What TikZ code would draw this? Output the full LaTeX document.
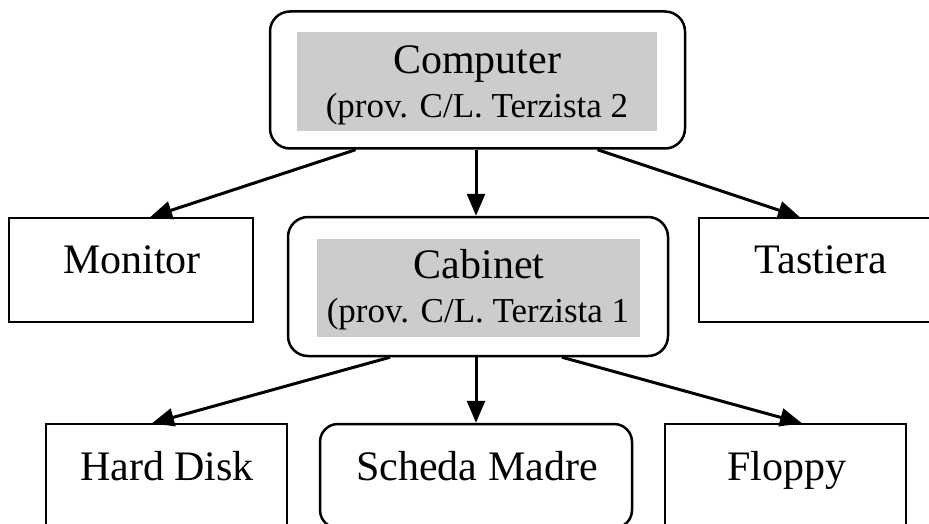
\documentclass[tikz,border=0pt]{standalone}
\usepackage{fontspec}
\setmainfont{Liberation Serif}
\usetikzlibrary{arrows.meta}
\begin{document}
\begin{tikzpicture}[x=1pt,y=-1pt,
  leafbox/.style={draw=black,line width=1.5pt,minimum width=241pt,minimum height=104pt,inner sep=0pt,fill=white},
  roundbox/.style={draw=black,line width=2.5pt,rounded corners=20pt,inner sep=0pt,fill=white},
  graybox/.style={fill=gray!40,draw=none,inner sep=0pt},
  bigtxt/.style={font=\fontsize{42}{44}\selectfont,anchor=base,inner sep=0pt},
  smalltxt/.style={font=\fontsize{35}{40}\selectfont,anchor=base,inner sep=0pt},
  link/.style={line width=3pt,-{Triangle[length=22pt,width=18pt]}}]
\useasboundingbox[fill=white] (0,0) rectangle (929,524);
% boxes
\node[roundbox,minimum width=415pt,minimum height=137pt] (computer) at (477.5,80) {};
\node[graybox,minimum width=360pt,minimum height=99pt] (computergray) at (477,81.5) {};
\node[leafbox,minimum width=244pt] (monitor) at (131,270) {};
\node[leafbox,minimum width=244pt] (tastiera) at (821,270) {};
\node[roundbox,minimum width=380pt,minimum height=139pt] (cabinet) at (478,286.5) {};
\node[graybox,minimum width=323pt,minimum height=98pt] (cabinetgray) at (478.5,288) {};
\node[leafbox] (harddisk) at (166.5,476) {};
\node[roundbox,rounded corners=18pt,minimum width=312pt,minimum height=104pt] (scheda) at (476,476) {};
\node[leafbox] (floppy) at (785.5,476) {};
% texts
\node[bigtxt] (computert) at (477,74) {Computer};
\node[smalltxt] (computers) at (477,118) {(prov. C/L. Terzista 2};
\node[bigtxt] (monitort) at (132,273) {Monitor};
\node[bigtxt] (tastierat) at (821,273) {Tastiera};
\node[bigtxt] (cabinett) at (479,278) {Cabinet};
\node[smalltxt] (cabinets) at (478,322) {(prov. C/L. Terzista 1};
\node[bigtxt] (harddiskt) at (167,480) {Hard Disk};
\node[bigtxt] (schedat) at (477,480) {Scheda Madre};
\node[bigtxt] (floppyt) at (787,480) {Floppy};
% connectors
\draw[link] ([xshift=-122pt]computer.south) -- ([xshift=19pt]monitor.north);
\draw[link] ([xshift=-1.5pt]computer.south) -- ([xshift=-1.5pt]computer.south |- cabinet.north);
\draw[link] ([xshift=120pt]computer.south) -- ([xshift=-21pt]tastiera.north);
\draw[link] ([xshift=-88pt]cabinet.south) -- ([xshift=-14.5pt]harddisk.north);
\draw[link] ([xshift=-2pt]cabinet.south) -- ([xshift=-2pt]cabinet.south |- scheda.north);
\draw[link] ([xshift=84pt]cabinet.south) -- ([xshift=16.5pt]floppy.north);
\end{tikzpicture}
\end{document}
